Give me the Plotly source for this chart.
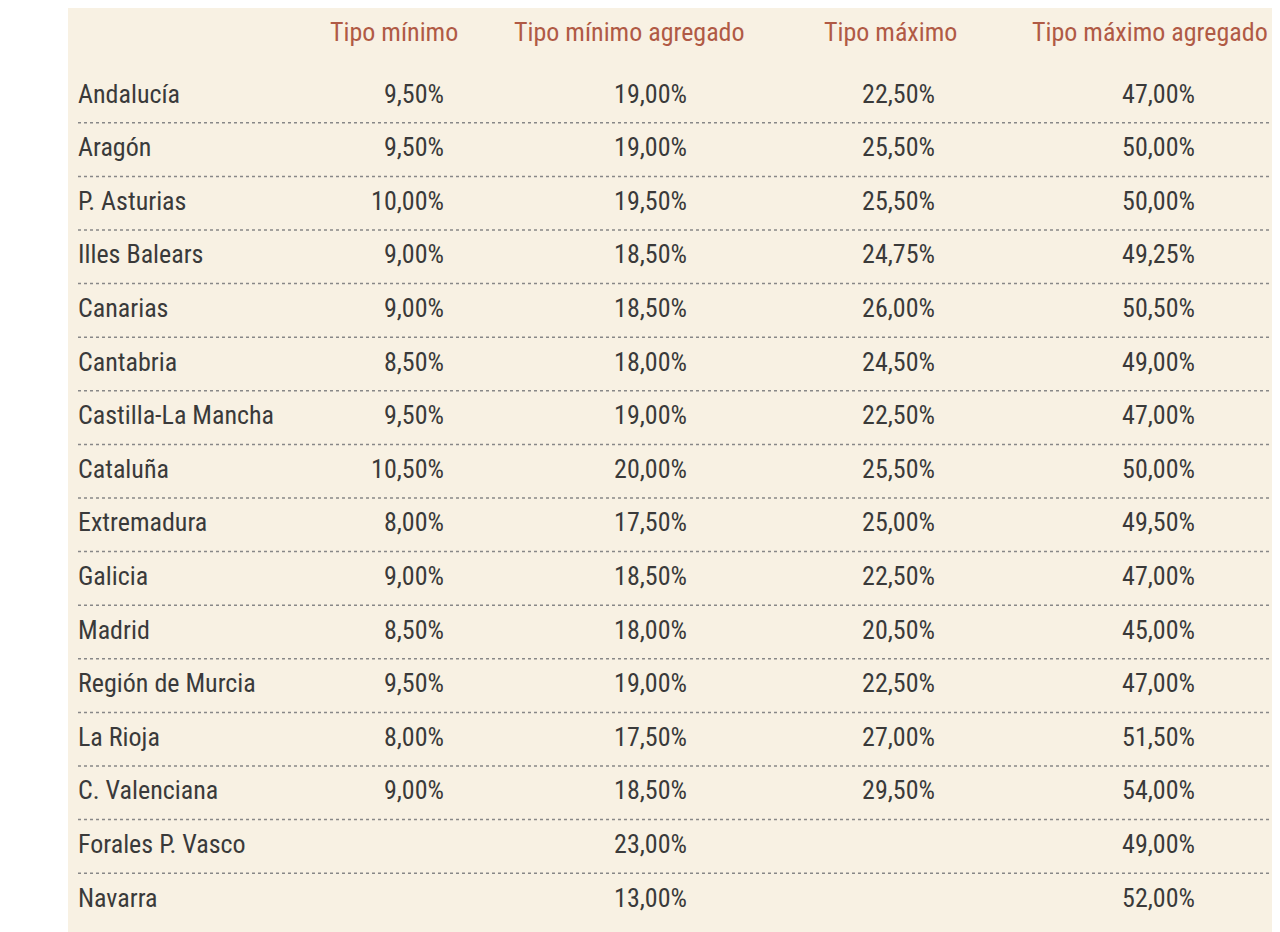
import plotly.graph_objects as go

regions = ["Andalucía","Aragón","P. Asturias","Illes Balears","Canarias","Cantabria",
           "Castilla-La Mancha","Cataluña","Extremadura","Galicia","Madrid",
           "Región de Murcia","La Rioja","C. Valenciana","Forales P. Vasco","Navarra"]
tipo_min = ["9,50%","9,50%","10,00%","9,00%","9,00%","8,50%","9,50%","10,50%","8,00%",
            "9,00%","8,50%","9,50%","8,00%","9,00%","",""]
tipo_min_agr = ["19,00%","19,00%","19,50%","18,50%","18,50%","18,00%","19,00%","20,00%",
                "17,50%","18,50%","18,00%","19,00%","17,50%","18,50%","23,00%","13,00%"]
tipo_max = ["22,50%","25,50%","25,50%","24,75%","26,00%","24,50%","22,50%","25,50%",
            "25,00%","22,50%","20,50%","22,50%","27,00%","29,50%","",""]
tipo_max_agr = ["47,00%","50,00%","50,00%","49,25%","50,50%","49,00%","47,00%","50,00%",
                "49,50%","47,00%","45,00%","47,00%","51,50%","54,00%","49,00%","52,00%"]
headers = ["Tipo mínimo","Tipo mínimo agregado","Tipo máximo","Tipo máximo agregado"]

FONT = "Liberation Sans Narrow, Roboto Condensed, Roboto, sans-serif"
TXT = "#3a3a3a"
HDR = "#b05a45"
rows = list(range(len(regions)))

fig = go.Figure()
def col(x, texts, pos):
    fig.add_trace(go.Scatter(x=[x]*len(texts), y=rows, text=texts, mode="text",
                             textposition=pos, cliponaxis=False,
                             textfont=dict(family=FONT, size=26, color=TXT),
                             hoverinfo="skip", showlegend=False))
col(10, regions, "middle right")
col(376, tipo_min, "middle left")
col(619, tipo_min_agr, "middle left")
col(867, tipo_max, "middle left")
col(1127, tipo_max_agr, "middle left")

hanchor = [328-68, 512-68, 822-68, 1030-68]
for h, x in zip(headers, hanchor):
    fig.add_annotation(x=x, y=-1.19, text=h, showarrow=False, xanchor="left",
                       font=dict(family=FONT, size=26, color=HDR))

for i in range(len(regions)-1):
    fig.add_shape(type="line", x0=10, x1=1212, y0=i+0.5, y1=i+0.5,
                  line=dict(color="#888888", width=1.5, dash="dot"))

fig.update_layout(
    width=1280, height=932, margin=dict(l=60, r=8, t=0, b=0),
    paper_bgcolor="white", plot_bgcolor="#f8f1e3",
    xaxis=dict(range=[0, 1212], visible=False, fixedrange=True),
    yaxis=dict(range=[15.746, -1.642], visible=False, fixedrange=True),
)
fig.write_html("out.html")
